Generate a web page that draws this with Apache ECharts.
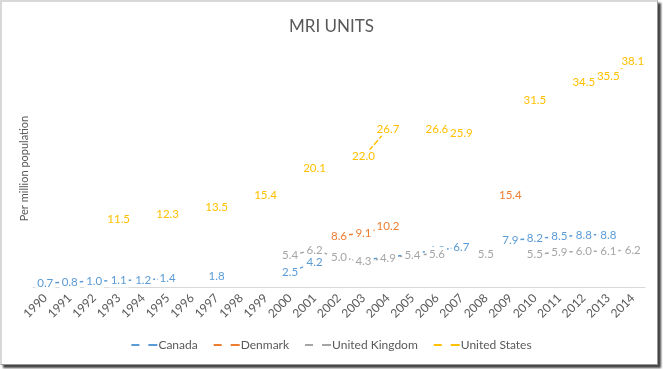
<!DOCTYPE html>
<html>
<head>
<meta charset="utf-8">
<script src="https://cdn.jsdelivr.net/npm/echarts@6/dist/echarts.min.js"></script>
<style>
html,body{margin:0;padding:0;background:#fff;}
#frame{position:absolute;left:0;top:0;width:655px;height:362px;border-top:2px solid #d8d8d8;border-left:2px solid #d8d8d8;border-right:1px solid #999;border-bottom:1px solid #999;box-shadow:3px 3px 2px #444;}
#chart{position:absolute;left:0;top:0;width:663px;height:369px;}
</style>
</head>
<body>
<div id="frame"></div>
<div id="chart"></div>
<script>
const years = ['1990','1991','1992','1993','1994','1995','1996','1997','1998','1999','2000','2001','2002','2003','2004','2005','2006','2007','2008','2009','2010','2011','2012','2013','2014'];
const canada = [0.7,0.8,1.0,1.1,1.2,1.4,null,1.8,null,null,2.5,4.2,null,4.7,4.9,5.7,6.2,6.7,null,7.9,8.2,8.5,8.8,8.8,null];
const denmark = [null,null,null,null,null,null,null,null,null,null,5.4,null,8.6,9.1,10.2,null,null,null,null,15.4,null,null,null,null,null];
const unitedKingdom = [null,null,null,null,null,null,null,null,null,null,5.4,6.2,5.0,4.3,4.9,5.4,5.6,null,5.5,null,5.5,5.9,6.0,6.1,6.2];
const unitedStates = [null,null,null,11.5,null,12.3,null,13.5,null,15.4,null,20.1,null,22.0,26.7,null,26.6,25.9,null,null,31.5,null,34.5,35.5,38.1];

const seriesDefs = [
  {name:'Canada', data:canada, color:'#5B9BD5'},
  {name:'Denmark', data:denmark, color:'#ED7D31'},
  {name:'United Kingdom', data:unitedKingdom, color:'#A5A5A5'},
  {name:'United States', data:unitedStates, color:'#FFC000'}
];
const font = 'Lato, "Open Sans", sans-serif';
const chart = echarts.init(document.getElementById('chart'));
chart.setOption({
  animation:false,
  title:{text:'MRI UNITS', left:'center', top:13, textStyle:{fontFamily:font, fontSize:17, fontWeight:'normal', color:'#595959'}},
  legend:{bottom:13, itemWidth:26, itemHeight:2, itemGap:16,
    icon:'path://M0,0H8V2H0Z M17,0H26V2H17Z',
    textStyle:{fontFamily:font, fontSize:12, color:'#595959', padding:[0,0,0,-4]},
    data:seriesDefs.map(s=>s.name)},
  grid:{left:33, right:18, top:50, bottom:82},
  xAxis:{type:'category', data:years, boundaryGap:true,
    axisTick:{show:false},
    axisLine:{lineStyle:{color:'#d9d9d9', width:1}},
    axisLabel:{rotate:45, interval:0, margin:9, color:'#595959', fontFamily:font, fontSize:12}},
  yAxis:{type:'value', min:0, max:40, axisLabel:{show:false}, axisLine:{show:false}, axisTick:{show:false}, splitLine:{show:false},
    name:'Per million population', nameLocation:'middle', nameGap:3, nameTextStyle:{color:'#595959', fontFamily:font, fontSize:11}},
  series: seriesDefs.map(s=>({
    name:s.name, type:'line', data:s.data, color:s.color,
    symbol:'circle', symbolSize:0, showSymbol:true, connectNulls:false,
    lineStyle:{color:s.color, width:1.5, type:[6,2]},
    itemStyle:{color:s.color},
    label:{show:true, position:'inside', color:s.color, fontFamily:font, fontSize:11.5,
      backgroundColor:'#fff', padding:[1,2],
      formatter:p=>p.value==null?'':Number(p.value).toFixed(1)}
  }))
});
</script>
</body>
</html>
